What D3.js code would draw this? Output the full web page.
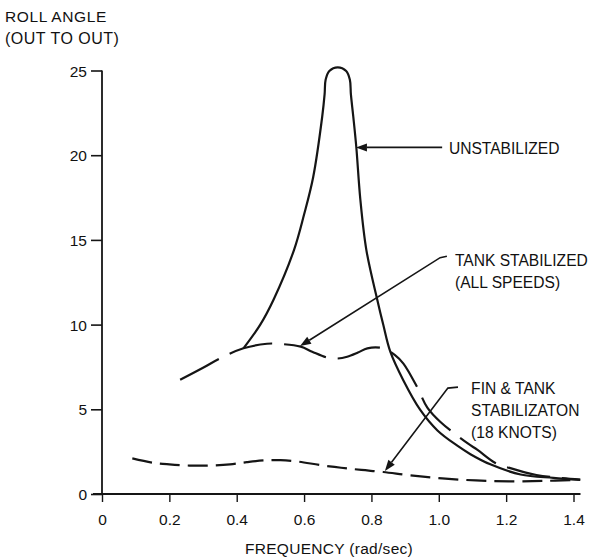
<!DOCTYPE html>
<html>
<head>
<meta charset="utf-8">
<script src="https://cdn.jsdelivr.net/npm/d3@7"></script>
<style>
  html, body { margin: 0; padding: 0; background: #ffffff; }
  svg text { font-family: "Liberation Sans", Arial, Helvetica, sans-serif; fill: #111111; }
</style>
</head>
<body>
<svg id="chart" width="592" height="559"></svg>
<script>
// ---- data ----
const xTicks = [0, 0.2, 0.4, 0.6, 0.8, 1.0, 1.2, 1.4];
const xTickLabels = ["0", "0.2", "0.4", "0.6", "0.8", "1.0", "1.2", "1.4"];
const yTicks = [0, 5, 10, 15, 20, 25];
const yTickLabels = ["0", "5", "10", "15", "20", "25"];

const unstabFreq = [0.42, 0.47, 0.51, 0.57, 0.60, 0.627, 0.654, 0.661, 0.664, 0.675, 0.70, 0.725, 0.736, 0.739, 0.746, 0.755, 0.767, 0.785, 0.817, 0.835, 0.856, 0.895, 0.945, 0.996, 1.055, 1.094, 1.153, 1.243, 1.34, 1.42];
const unstabRoll = [8.6, 10.0, 11.5, 14.4, 16.5, 18.7, 22.3, 23.6, 24.45, 24.97, 25.19, 24.97, 24.45, 23.6, 22.3, 20.5, 17.4, 14.4, 11.5, 10.0, 8.4, 6.7, 4.96, 3.75, 2.85, 2.35, 1.75, 1.15, 0.95, 0.83];

const tankFreq = [0.232, 0.30, 0.35, 0.42, 0.49, 0.52, 0.59, 0.624, 0.669, 0.70, 0.728, 0.76, 0.788, 0.835, 0.87, 0.895, 0.936, 0.966, 1.005, 1.085, 1.115, 1.168, 1.21, 1.29, 1.36, 1.42];
const tankRoll = [6.74, 7.45, 8.0, 8.6, 8.87, 8.87, 8.7, 8.4, 8.05, 8.0, 8.1, 8.35, 8.6, 8.6, 8.2, 7.7, 6.3, 5.1, 4.25, 3.0, 2.6, 1.83, 1.54, 1.12, 0.95, 0.85];

const finFreq = [0.09, 0.15, 0.2, 0.26, 0.32, 0.38, 0.43, 0.48, 0.53, 0.58, 0.65, 0.71, 0.77, 0.835, 0.915, 1.01, 1.11, 1.21, 1.31, 1.40];
const finRoll = [2.1, 1.85, 1.75, 1.68, 1.68, 1.75, 1.88, 1.98, 2.0, 1.92, 1.7, 1.55, 1.42, 1.3, 1.1, 0.92, 0.8, 0.75, 0.77, 0.83];

const seriesNames = ["UNSTABILIZED", "TANK STABILIZED", "FIN & TANK STABILIZATON"];
const titleLines = ["ROLL ANGLE", "(OUT TO OUT)"];
const xAxisTitle = "FREQUENCY (rad/sec)";

// annotations: label lines, tip (data coords), leader start (data coords)
const annotations = [
  { lines: ["UNSTABILIZED"], textAt: [1.03, 20.1], tail: [1.01, 20.46], bend: null, tip: [0.754, 20.46] },
  { lines: ["TANK STABILIZED", "(ALL SPEEDS)"], textAt: [1.048, 13.44], tail: [1.024, 14.03], bend: [1.004, 13.95], tip: [0.588, 8.73] },
  { lines: ["FIN & TANK", "STABILIZATON", "(18 KNOTS)"], textAt: [1.096, 5.9], tail: [1.057, 6.31], bend: [1.027, 6.25], tip: [0.84, 1.36] }
];

// ---- layout ----
const svg = d3.select("#chart");
const x = d3.scaleLinear().domain([0, 1.4]).range([102, 573.5]);
const y = d3.scaleLinear().domain([0, 25]).range([494, 70.5]);
const ink = "#151515";

svg.append("rect").attr("width", 592).attr("height", 559).attr("fill", "#ffffff");

// axes
const yAxis = d3.axisLeft(y).tickValues(yTicks).tickFormat((d, i) => yTickLabels[i]).tickSizeInner(11).tickSizeOuter(0).tickPadding(4);
const gy = svg.append("g").attr("transform", `translate(${x(0)},0)`).call(yAxis);
gy.select(".domain").remove();
gy.selectAll(".tick line").attr("stroke", ink).attr("stroke-width", 1.6);
gy.selectAll(".tick text").attr("font-size", 15.5).attr("fill", ink)
  .attr("font-family", "Liberation Sans, Arial, sans-serif").attr("dy", "0.36em");

const xAxis = d3.axisBottom(x).tickValues(xTicks).tickFormat((d, i) => xTickLabels[i]).tickSizeInner(8).tickSizeOuter(0).tickPadding(12);
const gx = svg.append("g").attr("transform", `translate(0,${y(0)})`).call(xAxis);
gx.select(".domain").remove();
gx.selectAll(".tick line").attr("stroke", ink).attr("stroke-width", 1.4);
gx.selectAll(".tick text").attr("font-size", 15.5).attr("fill", ink)
  .attr("font-family", "Liberation Sans, Arial, sans-serif");

// axis lines
svg.append("line").attr("x1", x(0) - 9).attr("x2", x(1.4) + 7).attr("y1", y(0)).attr("y2", y(0))
  .attr("stroke", ink).attr("stroke-width", 1.8);
svg.append("line").attr("x1", x(0)).attr("x2", x(0)).attr("y1", y(25)).attr("y2", y(0))
  .attr("stroke", ink).attr("stroke-width", 1.8);

// titles
svg.append("text").attr("x", 5).attr("y", 22).attr("font-size", 15.5).attr("letter-spacing", 0.6).text(titleLines[0]);
svg.append("text").attr("x", 5).attr("y", 44).attr("font-size", 16).attr("letter-spacing", 0.5).text(titleLines[1]);
svg.append("text").attr("x", 329).attr("y", 554).attr("font-size", 15.5).attr("letter-spacing", 0.3)
  .attr("text-anchor", "middle").text(xAxisTitle);

// series
const line = d3.line().x(d => x(d[0])).y(d => y(d[1])).curve(d3.curveCatmullRom.alpha(0.5));
const zip = (a, b) => a.map((v, i) => [v, b[i]]);

svg.append("path").datum(zip(finFreq, finRoll)).attr("d", line)
  .attr("fill", "none").attr("stroke", ink).attr("stroke-width", 2.2).attr("stroke-dasharray", "20,8");
svg.append("path").datum(zip(tankFreq, tankRoll)).attr("d", line)
  .attr("fill", "none").attr("stroke", ink).attr("stroke-width", 2.2).attr("stroke-dasharray", "44,12");
svg.append("path").datum(zip(unstabFreq, unstabRoll)).attr("d", line)
  .attr("fill", "none").attr("stroke", ink).attr("stroke-width", 2.2);

// annotations
annotations.forEach(a => {
  const pts = [a.tail, a.bend, a.tip].filter(p => p).map(p => [x(p[0]), y(p[1])]);
  const tip = pts[pts.length - 1];
  const prev = pts[pts.length - 2];
  const ang = Math.atan2(tip[1] - prev[1], tip[0] - prev[0]);
  const L = 11, W = 4;
  const base = [tip[0] - L * Math.cos(ang), tip[1] - L * Math.sin(ang)];
  const linePts = pts.slice(0, -1).concat([base]);
  svg.append("path").attr("d", d3.line().curve(d3.curveLinear)(linePts))
    .attr("fill", "none").attr("stroke", ink).attr("stroke-width", 1.6);
  const p1 = [base[0] + W * Math.sin(ang), base[1] - W * Math.cos(ang)];
  const p2 = [base[0] - W * Math.sin(ang), base[1] + W * Math.cos(ang)];
  svg.append("path").attr("d", `M${tip[0]},${tip[1]}L${p1[0]},${p1[1]}L${p2[0]},${p2[1]}Z`).attr("fill", ink);
  a.lines.forEach((t, i) => {
    svg.append("text").attr("x", x(a.textAt[0])).attr("y", y(a.textAt[1]) + i * 22)
      .attr("font-size", 15.6).text(t);
  });
});
</script>
</body>
</html>
